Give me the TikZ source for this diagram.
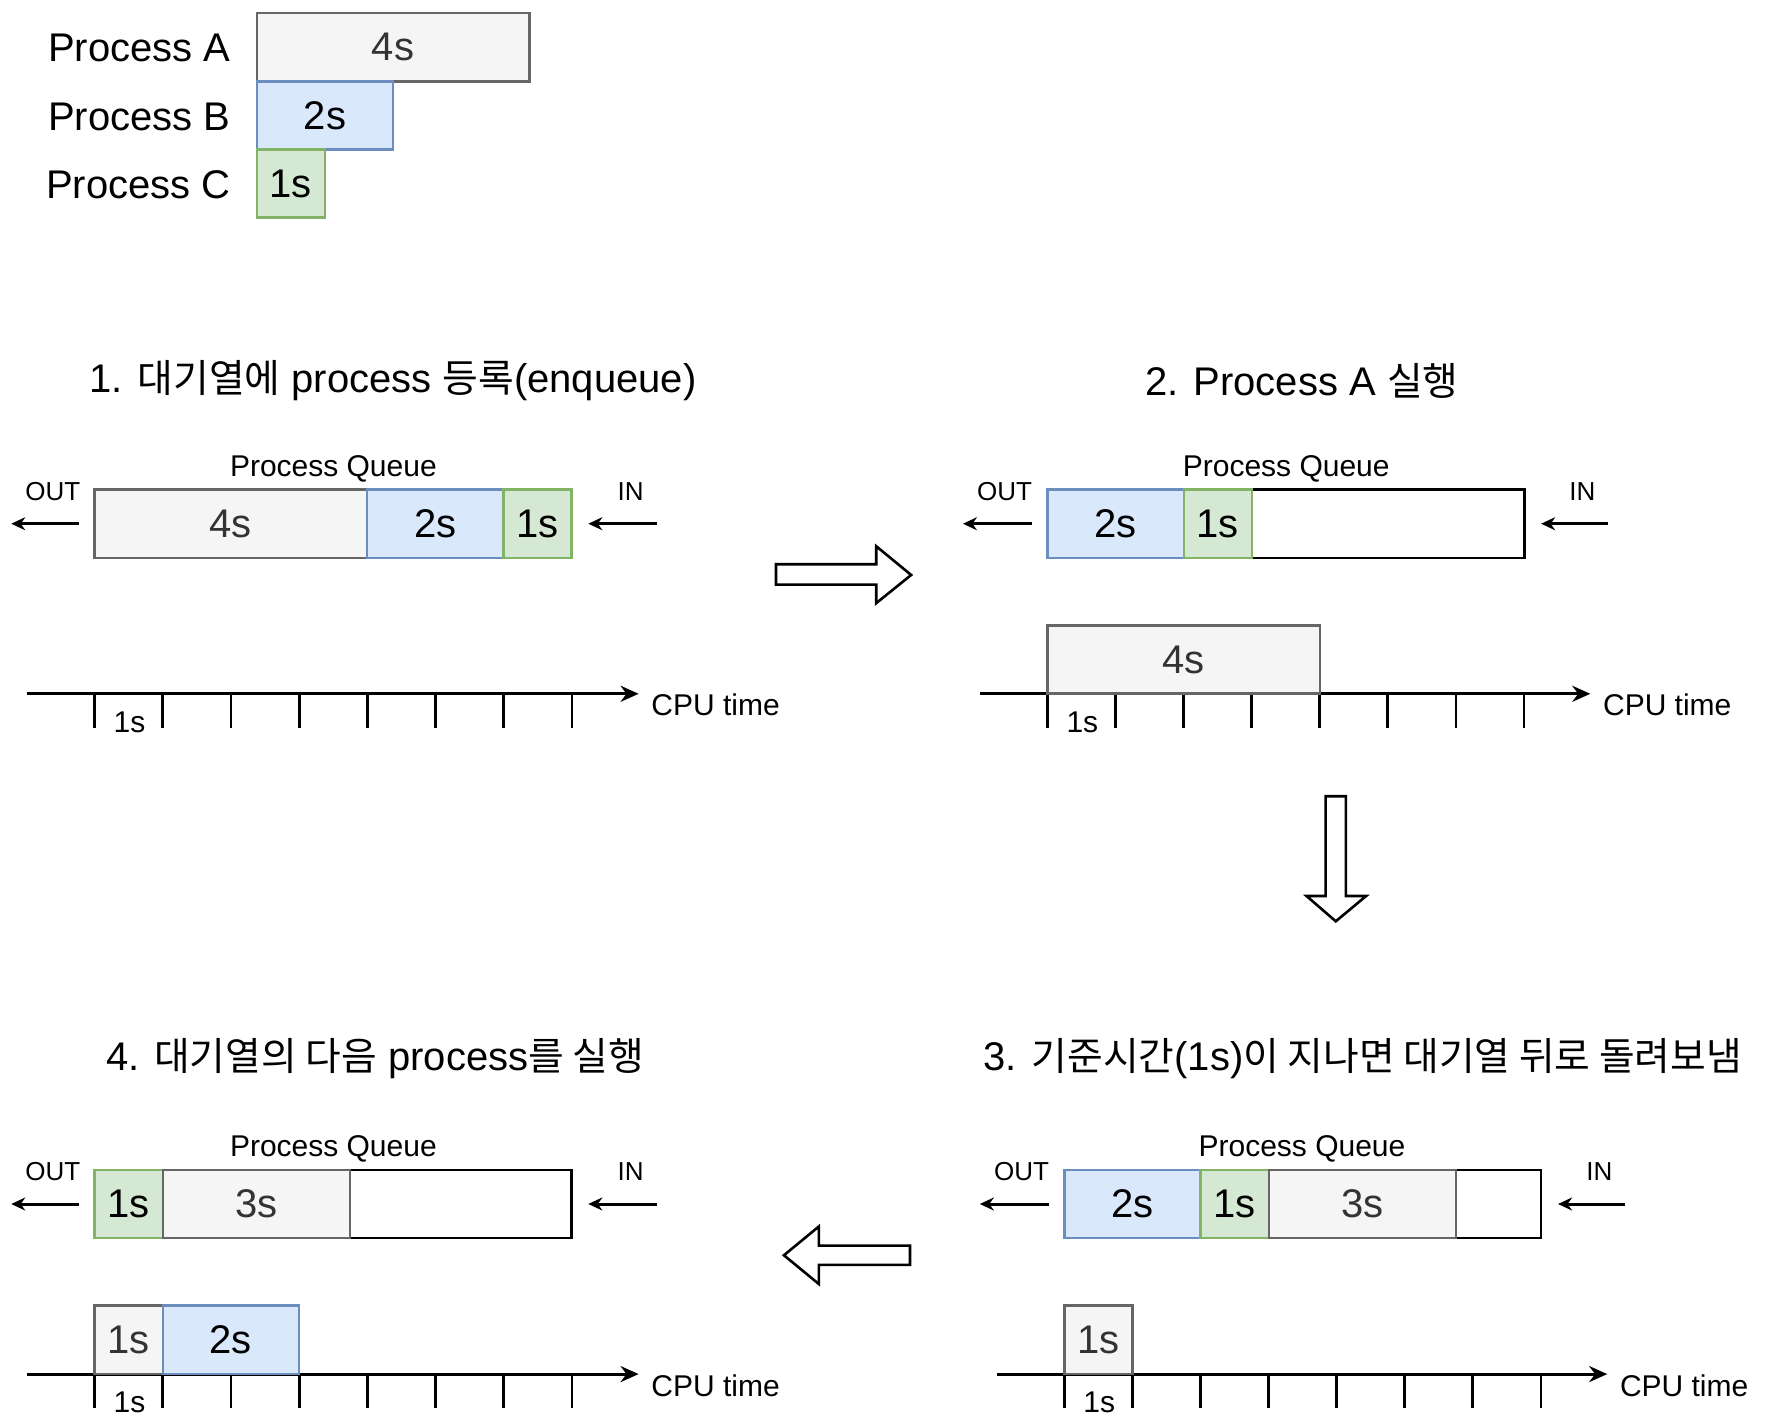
\documentclass[tikz,border=0pt]{standalone}
\usepackage{fontspec}
\setmainfont{Liberation Sans}
\newfontfamily\krfont[Scale=0.97]{Noto Sans CJK KR}
\usetikzlibrary{arrows.meta,positioning}

\definecolor{gfill}{HTML}{F5F5F5}
\definecolor{gline}{HTML}{666666}
\definecolor{gtext}{HTML}{333333}
\definecolor{bfill}{HTML}{DAE8FC}
\definecolor{bline}{HTML}{6C8EBF}
\definecolor{cfill}{HTML}{D5E8D4}
\definecolor{cline}{HTML}{82B366}

\newcommand{\slotw}{34.07pt}

\begin{document}
\begin{tikzpicture}[
  x=0.5632pt, y=-0.5632pt,
  node distance=0pt,
  job/.style={draw,line width=1.2pt,minimum height=\slotw,minimum width=#1*\slotw,
    inner sep=0pt,outer sep=0pt,anchor=west,font=\fontsize{20}{24}\selectfont},
  gjob/.style={job=#1,fill=gfill,draw=gline,text=gtext},
  bjob/.style={job=#1,fill=bfill,draw=bline},
  cjob/.style={job=#1,fill=cfill,draw=cline},
  slot/.style={job=#1,draw=black},
  heading/.style={font=\fontsize{20}{24}\selectfont},
  qtext/.style={font=\fontsize{15}{18}\selectfont},
  iotext/.style={font=\fontsize{13}{16}\selectfont},
  flowarrow/.style={line width=1.5pt,-{Stealth[length=7pt,width=6.5pt]}},
  timeaxis/.style={line width=1.5pt,-{Stealth[length=9pt,width=8pt]}},
  tickmark/.style={line width=1.4pt},
  bigarrow/.style={draw,line width=1.3pt,line join=miter,fill=white}
]
  \useasboundingbox (0,0) rectangle (1568,1263);

  % processes and their burst times
  \node[heading,anchor=east,inner sep=0pt] (la) at (205,43) {Process A};
  \node[heading,anchor=east,inner sep=0pt] (lb) at (205,104) {Process B};
  \node[heading,anchor=east,inner sep=0pt] (lc) at (205,164) {Process C};
  \node[gjob=4] (pa) at (228,42) {4s};
  \node[bjob=2] (pb) at (228,102.5) {2s};
  \node[cjob=1] (pc) at (228,163) {1s};

  % 1. enqueue
  \node[heading] (t1) at (349,338) {1. {\krfont 대기열에} process {\krfont 등록}(enqueue)};
  \node[qtext] (pq1) at (296,416) {Process Queue};
  \node[slot=7] (q1) at (84,465) {};
  \node[gjob=4] (q1a) at (q1.west) {4s};
  \node[bjob=2,right=of q1a] (q1b) {2s};
  \node[cjob=1,right=of q1b] (q1c) {1s};
  \node[iotext] (o1) at (47,436) {OUT};
  \node[iotext] (i1) at (560,436) {IN};
  \coordinate (o1e) at (10,465);
  \coordinate (i1s) at (583,465);
  \draw[flowarrow,shorten <=7.9pt] (q1.west) -- (o1e);
  \draw[flowarrow,shorten >=8.4pt] (i1s) -- (q1.east);
  \coordinate (a1s) at (24,616);
  \coordinate (a1e) at (567,616);
  \draw[timeaxis] (a1s) -- (a1e);
  \foreach \i in {0,...,7}
    \draw[tickmark] (84+60.55*\i,616) -- ++(0,30);
  \node[qtext] (u1) at (115,641) {1s};
  \node[qtext,anchor=west,inner sep=0pt] (c1) at (578,626) {CPU time};

  % 2. run A
  \node[heading] (t2) at (1156,338) {2. Process A {\krfont 실행}};
  \node[qtext] (pq2) at (1142,416) {Process Queue};
  \node[slot=7] (q2) at (930,465) {};
  \node[bjob=2] (q2a) at (q2.west) {2s};
  \node[cjob=1,right=of q2a] (q2b) {1s};
  \node[iotext] (o2) at (892,436) {OUT};
  \node[iotext] (i2) at (1405,436) {IN};
  \coordinate (o2e) at (855,465);
  \coordinate (i2s) at (1428,465);
  \draw[flowarrow,shorten <=7.9pt] (q2.west) -- (o2e);
  \draw[flowarrow,shorten >=8.4pt] (i2s) -- (q2.east);
  \coordinate (a2s) at (870,616);
  \coordinate (a2e) at (1412,616);
  \draw[timeaxis] (a2s) -- (a2e);
  \foreach \i in {0,...,7}
    \draw[tickmark] (930+60.45*\i,616) -- ++(0,30);
  \node[gjob=4] (x2a) at (930,585.5) {4s};
  \node[qtext] (u2) at (961,641) {1s};
  \node[qtext,anchor=west,inner sep=0pt] (c2) at (1423,626) {CPU time};

  % 3. time slice over, back to the queue
  \node[heading] (t3) at (1210,940) {3. {\krfont 기준시간}(1s){\krfont 이 지나면 대기열 뒤로 돌려보냄}};
  \node[qtext] (pq3) at (1156,1020) {Process Queue};
  \node[slot=7] (q3) at (945,1069) {};
  \node[bjob=2] (q3a) at (q3.west) {2s};
  \node[cjob=1,right=of q3a] (q3b) {1s};
  \node[gjob=2.75,right=of q3b] (q3c) {3s};
  \node[iotext] (o3) at (907,1040) {OUT};
  \node[iotext] (i3) at (1420,1040) {IN};
  \coordinate (o3e) at (870,1069);
  \coordinate (i3s) at (1443,1069);
  \draw[flowarrow,shorten <=7.9pt] (q3.west) -- (o3e);
  \draw[flowarrow,shorten >=8.4pt] (i3s) -- (q3.east);
  \coordinate (a3s) at (885,1220);
  \coordinate (a3e) at (1427,1220);
  \draw[timeaxis] (a3s) -- (a3e);
  \foreach \i in {0,...,7}
    \draw[tickmark] (945+60.45*\i,1220) -- ++(0,30);
  \node[gjob=1] (x3a) at (945,1189.5) {1s};
  \node[qtext] (u3) at (976,1245) {1s};
  \node[qtext,anchor=west,inner sep=0pt] (c3) at (1438,1230) {CPU time};

  % 4. next process
  \node[heading] (t4) at (333,940) {4. {\krfont 대기열의 다음} process{\krfont 를 실행}};
  \node[qtext] (pq4) at (296,1020) {Process Queue};
  \node[slot=7] (q4) at (84,1069) {};
  \node[cjob=1] (q4a) at (q4.west) {1s};
  \node[gjob=2.75,right=of q4a] (q4b) {3s};
  \node[iotext] (o4) at (47,1040) {OUT};
  \node[iotext] (i4) at (560,1040) {IN};
  \coordinate (o4e) at (10,1069);
  \coordinate (i4s) at (583,1069);
  \draw[flowarrow,shorten <=7.9pt] (q4.west) -- (o4e);
  \draw[flowarrow,shorten >=8.4pt] (i4s) -- (q4.east);
  \coordinate (a4s) at (24,1220);
  \coordinate (a4e) at (567,1220);
  \draw[timeaxis] (a4s) -- (a4e);
  \foreach \i in {0,...,7}
    \draw[tickmark] (84+60.55*\i,1220) -- ++(0,30);
  \node[gjob=1] (x4a) at (84,1189.5) {1s};
  \node[bjob=2,right=of x4a] (x4b) {2s};
  \node[qtext] (u4) at (115,1245) {1s};
  \node[qtext,anchor=west,inner sep=0pt] (c4) at (578,1230) {CPU time};

  % step arrows
  \draw[bigarrow] (689,501) -- (778,501) -- (778,485) -- (809,510.5) -- (778,535.5)
    -- (778,519) -- (689,519) -- cycle;
  \draw[bigarrow] (1177,707) -- (1195,707) -- (1195,795.5) -- (1213,795.5) -- (1186,818)
    -- (1160,795.5) -- (1177,795.5) -- cycle;
  \draw[bigarrow] (808,1106) -- (727,1106) -- (727,1089) -- (696,1114.5) -- (727,1140)
    -- (727,1123) -- (808,1123) -- cycle;
\end{tikzpicture}
\end{document}
